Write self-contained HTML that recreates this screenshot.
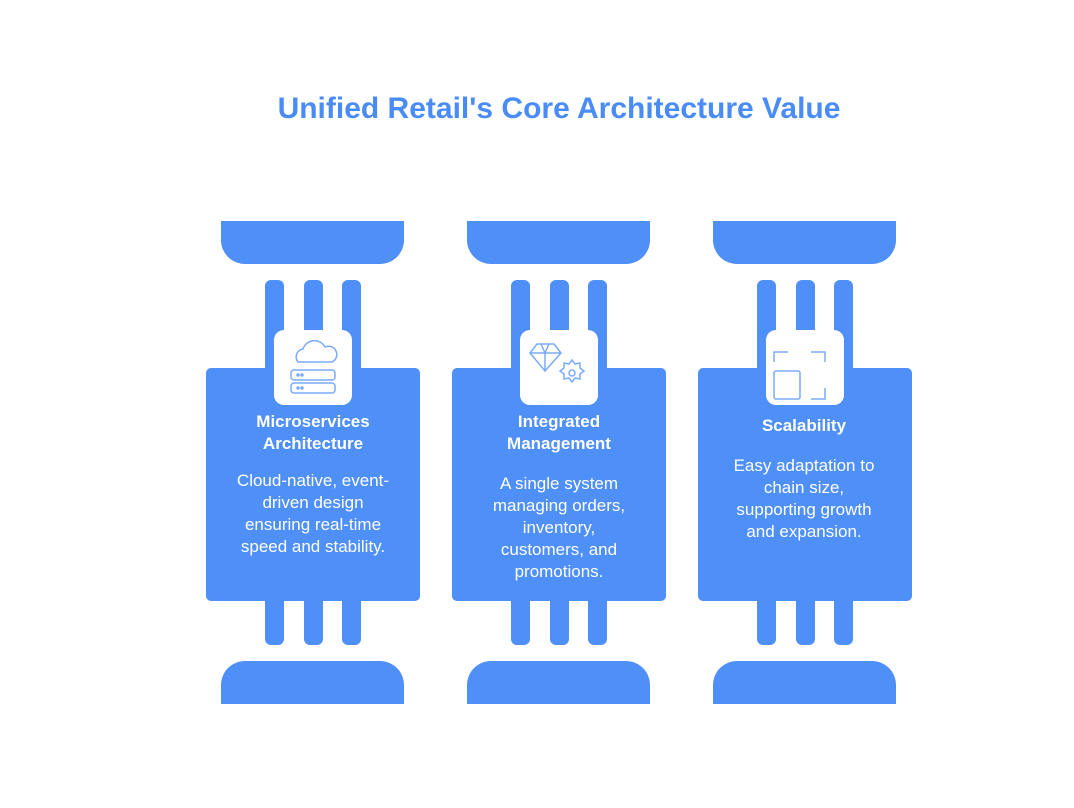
<!DOCTYPE html>
<html><head><style>
body{margin:0;width:1074px;height:808px;background:#fff;position:relative;font-family:"Liberation Sans",sans-serif;overflow:hidden}
.a{position:absolute;background:#4e8ff8}
.t{position:absolute;color:#fff;text-align:center;font-size:17px;line-height:22px;white-space:nowrap}
.h{font-weight:bold}
.ib{position:absolute;background:#fff;border-radius:10px;width:78px;height:75px}
</style></head><body>
<div style="position:absolute;left:0;width:1074px;top:92px;text-align:center;padding-left:44px;box-sizing:border-box;color:#4a8cf7;font-weight:bold;font-size:30px">Unified Retail's Core Architecture Value</div>

<div id="c"></div>
<script>
const offs=[0,246,492];
let h='';
offs.forEach(o=>{
h+=`<div class="a" style="left:${221+o}px;top:221px;width:183px;height:43px;border-radius:0 0 24px 24px"></div>`;
h+=`<div class="a" style="left:${221+o}px;top:661px;width:183px;height:43px;border-radius:24px 24px 0 0"></div>`;
[265,304,342].forEach(x=>{
h+=`<div class="a" style="left:${x+o}px;top:280px;width:19px;height:100px;border-radius:6px 6px 0 0"></div>`;
h+=`<div class="a" style="left:${x+o}px;top:595px;width:19px;height:50px;border-radius:0 0 6px 6px"></div>`;
});
h+=`<div class="a" style="left:${206+o}px;top:368px;width:214px;height:233px;border-radius:5px"></div>`;
h+=`<div class="ib" style="left:${274+o}px;top:330px"></div>`;
});
document.getElementById('c').innerHTML=h;
</script>

<svg style="position:absolute;left:0;top:0" width="1074" height="808" fill="none" stroke="#7aabf8" stroke-width="1.5">
<path d="M298 362 a8 8 0 0 1 5 -13 a12 12 0 0 1 22 -2 a8 8 0 0 1 7 15 z"/>
<rect x="291" y="370" width="44" height="10" rx="3"/>
<rect x="291" y="383" width="44" height="10" rx="3"/>
<circle cx="298" cy="375" r="1" fill="#7aabf8"/><circle cx="302" cy="375" r="1" fill="#7aabf8"/>
<circle cx="298" cy="388" r="1" fill="#7aabf8"/><circle cx="302" cy="388" r="1" fill="#7aabf8"/>
<path d="M530 353 l7 -9 h17 l7 9 l-16 18 z M530 353 h31 M541 344 l4 9 l4 -9 M545 353 v18"/>
<path d="M572 360 l3 4 l5 -1 l0 5 l4 3 l-4 3 l0 5 l-5 -1 l-3 4 l-3 -4 l-5 1 l0 -5 l-4 -3 l4 -3 l0 -5 l5 1 z"/>
<circle cx="572" cy="373" r="3"/>
<path d="M774 362 v-10 h14 M811 352 h14 v10 M825 388 v11 h-14"/>
<rect x="774" y="371" width="26" height="28" rx="2"/>
</svg>

<div class="t h" style="left:206px;top:411px;width:214px">Microservices<br>Architecture</div>
<div class="t" style="left:206px;top:470px;width:214px">Cloud-native, event-<br>driven design<br>ensuring real-time<br>speed and stability.</div>
<div class="t h" style="left:452px;top:411px;width:214px">Integrated<br>Management</div>
<div class="t" style="left:452px;top:473px;width:214px">A single system<br>managing orders,<br>inventory,<br>customers, and<br>promotions.</div>
<div class="t h" style="left:697px;top:415px;width:214px">Scalability</div>
<div class="t" style="left:697px;top:455px;width:214px">Easy adaptation to<br>chain size,<br>supporting growth<br>and expansion.</div>
</body></html>
